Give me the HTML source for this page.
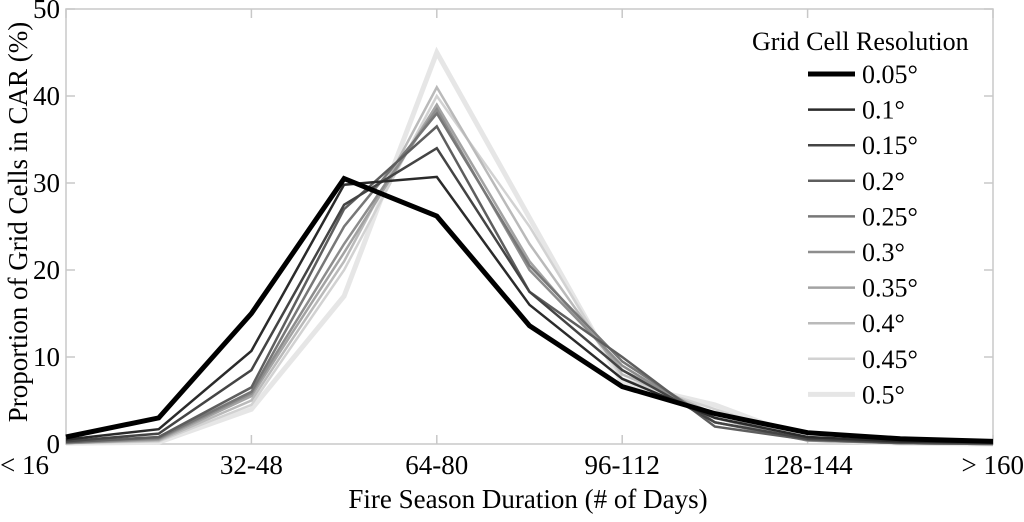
<!DOCTYPE html>
<html><head><meta charset="utf-8"><style>
html,body{margin:0;padding:0;background:#fff;}
svg text{font-family:"Liberation Serif",serif;fill:#000;}
</style></head><body>
<svg id="chart" width="1024" height="517" xmlns="http://www.w3.org/2000/svg">
<g id="frame"></g><g id="series"></g><g id="legend"></g>
</svg>
<script>
const categories = ["< 16","16-32","32-48","48-64","64-80","80-96","96-112","112-128","128-144","144-160","> 160"];
const xTickLabels = ["< 16","32-48","64-80","96-112","128-144","> 160"];
const yTicks = [0,10,20,30,40,50];
const seriesNames = ["0.05°","0.1°","0.15°","0.2°","0.25°","0.3°","0.35°","0.4°","0.45°","0.5°"];
const s005 = [0.8,3,15,30.5,26.2,13.6,6.6,3.5,1.3,0.6,0.3];
const s010 = [0.5,1.7,10.7,29.8,30.7,16,7.5,3,0.8,0.3,0.2];
const s015 = [0.3,1.2,8.5,27.5,34,17.5,8.5,2.5,0.6,0.2,0.1];
const s020 = [0.2,0.8,6.5,27,36.5,17.5,10,2,0.5,0.1,0];
const s025 = [0.2,0.7,6,25,38,20.5,9.5,2.5,0.5,0.1,0];
const s030 = [0.1,0.6,5.8,23,38.5,20,9,2.5,0.4,0.1,0];
const s035 = [0.1,0.5,5.5,22,39,21,8.5,3,0.4,0.1,0];
const s040 = [0.1,0.4,5,21,41,23,8,3.5,0.5,0.1,0];
const s045 = [0.1,0.3,4.5,20,40,25,7.5,4,0.5,0.1,0];
const s050 = [0.1,0.2,4,17,45,26,7,4.5,0.5,0.1,0];
const allSeries = [s005,s010,s015,s020,s025,s030,s035,s040,s045,s050];

const NS="http://www.w3.org/2000/svg";
const X0=66,X1=993,Y0=444,Y1=9;
function xS(i){return X0+(X1-X0)*i/(categories.length-1);}
function yS(v){return Y0-(Y0-Y1)*v/50;}
function mk(tag,attrs,parent){const e=document.createElementNS(NS,tag);for(const k in attrs)e.setAttribute(k,attrs[k]);parent.appendChild(e);return e;}
const frame=document.getElementById('frame');
const box=mk('rect',{x:X0,y:Y1,width:X1-X0,height:Y0-Y1,fill:'none',stroke:'#c8c8c8','stroke-width':1.5},frame);


yTicks.forEach(v=>{
  const y=yS(v);
  mk('line',{x1:X0,x2:X0+9,y1:y,y2:y,stroke:'#c8c8c8','stroke-width':1.5},frame);
  mk('line',{x1:X1-9,x2:X1,y1:y,y2:y,stroke:'#c8c8c8','stroke-width':1.5},frame);
  const t=mk('text',{x:X0-6,y:y+9,'text-anchor':'end','font-size':27},frame);
  t.textContent=v;
  
  
});
xTickLabels.forEach(lbl=>{
  const i=categories.indexOf(lbl);const x=xS(i);
  mk('line',{x1:x,x2:x,y1:Y0,y2:Y0-9,stroke:'#c8c8c8','stroke-width':1.5},frame);
  mk('line',{x1:x,x2:x,y1:Y1,y2:Y1+9,stroke:'#c8c8c8','stroke-width':1.5},frame);
  let anchor='middle';
  if(i===0)anchor='start';
  if(i===categories.length-1)anchor='end';
  const t=mk('text',{x:i===0?x-66:(i===categories.length-1?x+31:x),y:Y0+30,'text-anchor':anchor,'font-size':27},frame);
  t.textContent=lbl;
  
  
});
const xt=mk('text',{x:528,y:508,'text-anchor':'middle','font-size':27},frame);
xt.textContent='Fire Season Duration (# of Days)';


const yt=mk('text',{x:0,y:0,'text-anchor':'middle','font-size':27,transform:'translate(27,222) rotate(-90)'},frame);
yt.textContent='Proportion of Grid Cells in CAR (%)';



const colors=['#000','#2a2a2a','#444','#5e5e5e','#777','#8d8d8d','#a3a3a3','#bababa','#d2d2d2','#e6e6e6'];
const widths=[5,2.5,2.5,2.5,2.5,2.5,2.5,2.5,2.5,5];
const sg=document.getElementById('series');
for(let k=allSeries.length-1;k>=0;k--){
  const d=allSeries[k].map((v,i)=>(i?'L':'M')+xS(i).toFixed(1)+','+yS(v).toFixed(1)).join(' ');
  const p=mk('path',{d:d,fill:'none',stroke:colors[k],'stroke-width':widths[k],'stroke-linejoin':'miter'},sg);
  
  
}
const lg=document.getElementById('legend');
const lt=mk('text',{x:752,y:50,'font-size':26},lg);
lt.textContent='Grid Cell Resolution';


seriesNames.forEach((n,k)=>{
  const y=74+k*35.6;
  mk('line',{x1:808,x2:855,y1:y,y2:y,stroke:colors[k],'stroke-width':widths[k]},lg);
  const t=mk('text',{x:862,y:y+9,'font-size':26},lg);
  t.textContent=n;
  
  
});
</script>
</body></html>
